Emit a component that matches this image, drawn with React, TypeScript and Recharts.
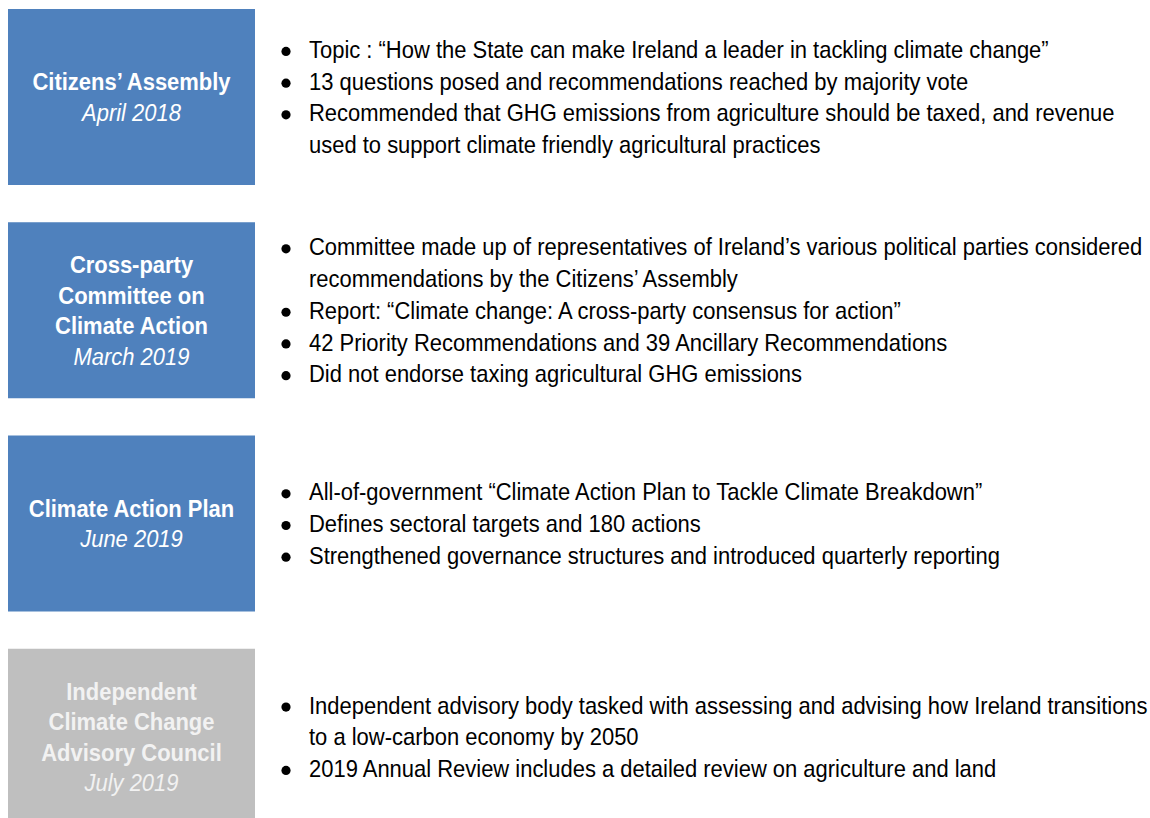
import { BarChart, Bar, XAxis, YAxis } from "recharts";

const stages = [
  "Citizens’ Assembly",
  "Cross-party Committee on Climate Action",
  "Climate Action Plan",
  "Independent Climate Change Advisory Council",
];
const titleLines = [
  ["Citizens’ Assembly"],
  ["Cross-party", "Committee on", "Climate Action"],
  ["Climate Action Plan"],
  ["Independent", "Climate Change", "Advisory Council"],
];
const dates = ["April 2018", "March 2019", "June 2019", "July 2019"];
// grey box = advisory body, blue = policy process
const isProcess = [true, true, true, false];
const bullets = [
  [
    ["Topic : “How the State can make Ireland a leader in tackling climate change”"],
    ["13 questions posed and recommendations reached by majority vote"],
    [
      "Recommended that GHG emissions from agriculture should be taxed, and revenue",
      "used to support climate friendly agricultural practices",
    ],
  ],
  [
    [
      "Committee made up of representatives of Ireland’s various political parties considered",
      "recommendations by the Citizens’ Assembly",
    ],
    ["Report: “Climate change: A cross-party consensus for action”"],
    ["42 Priority Recommendations and 39 Ancillary Recommendations"],
    ["Did not endorse taxing agricultural GHG emissions"],
  ],
  [
    ["All-of-government “Climate Action Plan to Tackle Climate Breakdown”"],
    ["Defines sectoral targets and 180 actions"],
    ["Strengthened governance structures and introduced quarterly reporting"],
  ],
  [
    [
      "Independent advisory body tasked with assessing and advising how Ireland transitions",
      "to a low-carbon economy by 2050",
    ],
    ["2019 Annual Review includes a detailed review on agriculture and land"],
  ],
];

const data = stages.map((name, i) => ({
  name,
  value: 1,
  title: titleLines[i],
  date: dates[i],
  process: isProcess[i],
  bullets: bullets[i],
}));

const FONT = "'Liberation Sans', Arial, sans-serif";
const BOX_W = 247;
const TITLE_LH = 30.5;
const BULLET_LH = 31.7;
const SQUEEZE = 0.915; // narrow look of the original typeface

function StageBox(props: any) {
  const { x, y, height, payload } = props;
  const cy = y + height / 2;
  const rows = [
    ...payload.title.map((t: string) => ({ t, italic: false })),
    { t: payload.date, italic: true },
  ];
  const t0 = cy - ((rows.length - 1) * TITLE_LH) / 2;
  const lines: { t: string; first: boolean }[] = [];
  payload.bullets.forEach((item: string[]) =>
    item.forEach((t, j) => lines.push({ t, first: j === 0 }))
  );
  const b0 = cy - ((lines.length - 1) * BULLET_LH) / 2;
  const titleColor = payload.process ? "#ffffff" : "#f2f2f2";
  return (
    <g>
      <rect x={x} y={y} width={BOX_W} height={height} fill={payload.process ? "#4f81bd" : "#bfbfbf"} />
      {rows.map((r, i) => (
        <g key={"t" + i} transform={`translate(${x + BOX_W / 2},${t0 + i * TITLE_LH}) scale(${SQUEEZE},1)`}>
          <text
            x={0}
            y={0}
            dy="0.36em"
            textAnchor="middle"
            fill={titleColor}
            fontFamily={FONT}
            fontSize={24}
            fontWeight={r.italic ? 400 : 700}
            fontStyle={r.italic ? "italic" : "normal"}
          >
            {r.t}
          </text>
        </g>
      ))}
      {lines.map((l, i) => (
        <g key={"b" + i}>
          {l.first && <circle cx={x + 278} cy={b0 + i * BULLET_LH + 2} r={4.6} fill="#000" />}
          <g transform={`translate(${x + 301},${b0 + i * BULLET_LH}) scale(${SQUEEZE},1)`}>
            <text x={0} y={0} dy="0.36em" fill="#000" fontFamily={FONT} fontSize={24}>
              {l.t}
            </text>
          </g>
        </g>
      ))}
    </g>
  );
}

export default function App() {
  return (
    <div style={{ position: "fixed", left: 8, top: -10, width: 1142, height: 828, overflow: "hidden", background: "#fff" }}>
      <BarChart
        width={1142}
        height={853}
        data={data}
        layout="vertical"
        margin={{ top: 0, right: 0, bottom: 0, left: 0 }}
      >
        <XAxis type="number" domain={[0, 1]} hide />
        <YAxis type="category" dataKey="name" hide />
        <Bar dataKey="value" barSize={176} shape={StageBox} isAnimationActive={false} />
      </BarChart>
    </div>
  );
}
